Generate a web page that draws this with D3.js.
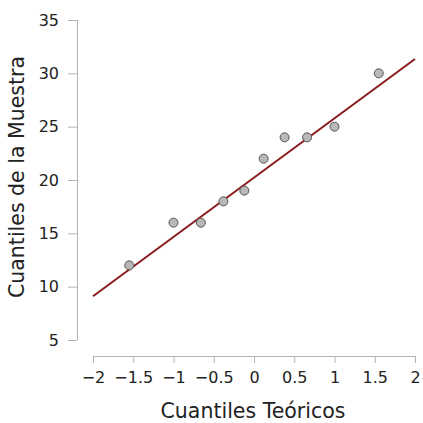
<!DOCTYPE html>
<html>
<head>
<meta charset="utf-8">
<script src="https://cdn.jsdelivr.net/npm/d3@7"></script>
<style>
  body { margin: 0; background: #fff; }
  svg { display: block; }
  text { font-family: "DejaVu Sans", sans-serif; fill: #222; }
</style>
</head>
<body>
<svg id="chart" width="423" height="423"></svg>
<script>
// theoretical quantiles (x) vs sample quantiles (y)
const theoretical = [-1.55, -1.00, -0.66, -0.38, -0.12, 0.12, 0.38, 0.66, 1.00, 1.55];
const sample = [12, 16, 16, 18, 19, 22, 24, 24, 25, 30];
const refLine = [{x: -2, y: 9.1}, {x: 2, y: 31.35}];
const xTicks = [-2, -1.5, -1, -0.5, 0, 0.5, 1, 1.5, 2];
const yTicks = [5, 10, 15, 20, 25, 30, 35];

const svg = d3.select("#chart");
const xScale = d3.scaleLinear().domain([-2, 2]).range([93, 415]);
const yScale = d3.scaleLinear().domain([5, 35]).range([340, 20]);
const axisColor = "#b3b3b3";

const fmt = d => String(d).replace("-", "\u2212");

// x axis
const xAxis = svg.append("g")
    .attr("transform", "translate(0,356)")
    .call(d3.axisBottom(xScale).tickValues(xTicks).tickSize(7).tickPadding(9).tickFormat(fmt));
xAxis.select(".domain").attr("stroke", axisColor).attr("d", "M" + xScale(-2) + ",0.5H" + xScale(2));
xAxis.selectAll(".tick line").attr("stroke", axisColor);
xAxis.selectAll(".tick text").style("font-size", "16px").attr("fill", "#222");

// y axis
const yAxis = svg.append("g")
    .attr("transform", "translate(77,0)")
    .call(d3.axisLeft(yScale).tickValues(yTicks).tickSize(9).tickPadding(9));
yAxis.select(".domain").attr("stroke", axisColor).attr("d", "M0.5," + yScale(35) + "V" + yScale(5));
yAxis.selectAll(".tick line").attr("stroke", axisColor);
yAxis.selectAll(".tick text").style("font-size", "16px").attr("fill", "#222");

// reference line
svg.append("path")
    .datum(refLine)
    .attr("fill", "none")
    .attr("stroke", "#8b1a1a")
    .attr("stroke-width", 2)
    .attr("d", d3.line().x(d => xScale(d.x)).y(d => yScale(d.y)));

// points
svg.selectAll("circle.pt")
    .data(theoretical.map((t, i) => ({x: t, y: sample[i]})))
    .enter()
    .append("circle")
    .attr("class", "pt")
    .attr("cx", d => xScale(d.x))
    .attr("cy", d => yScale(d.y))
    .attr("r", 4.5)
    .attr("fill", "#b8b8b8")
    .attr("stroke", "#555")
    .attr("stroke-width", 1);

// axis titles
svg.append("text")
    .attr("x", 253)
    .attr("y", 418)
    .attr("text-anchor", "middle")
    .style("font-size", "20.5px")
    .text("Cuantiles Teóricos");

svg.append("text")
    .attr("transform", "translate(24,177) rotate(-90)")
    .attr("text-anchor", "middle")
    .style("font-size", "20.5px")
    .text("Cuantiles de la Muestra");
</script>
</body>
</html>
